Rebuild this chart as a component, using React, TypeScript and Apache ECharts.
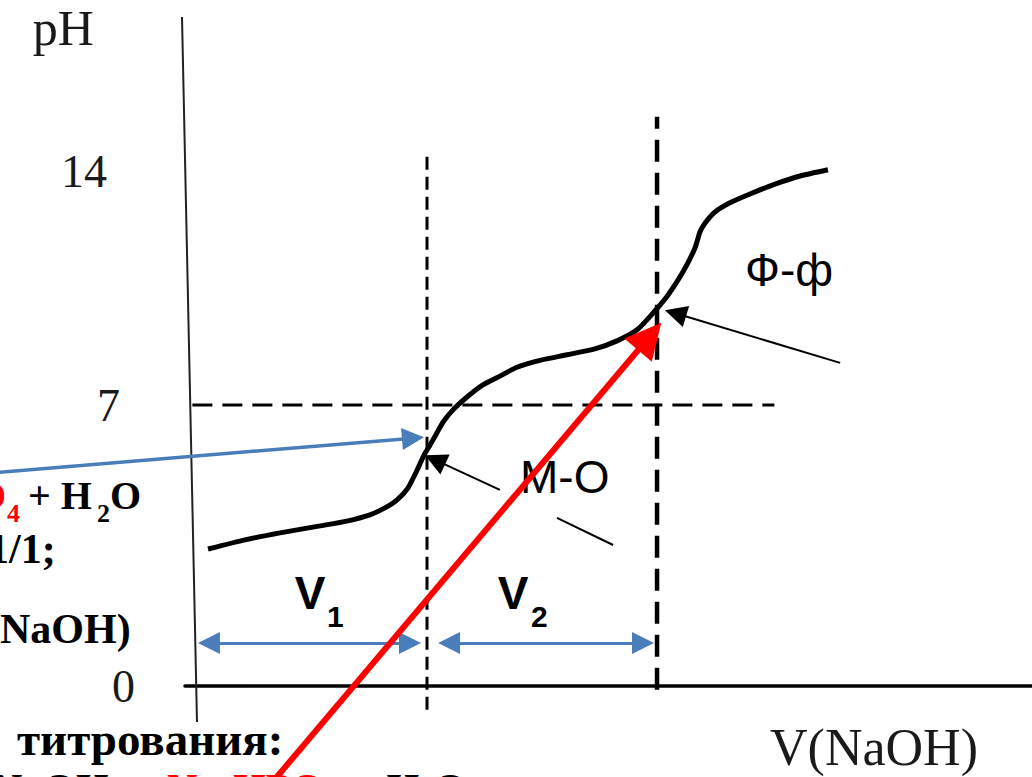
import React, { useEffect, useRef } from "react";
import * as echarts from "echarts";

// Titration curve (V of NaOH, pH)
const curveVolume = [0.48, 2.09, 3.61, 5.35, 6.52, 7.52, 8.17, 8.7, 9.17, 9.57, 9.87, 10.13, 10.43, 10.7, 11.13, 11.74, 12.43, 13.17, 13.91, 14.91, 16.09, 17.3, 18.26, 19.13, 19.83, 20.48, 21.13, 21.65, 21.87, 22.09, 22.52, 23.17, 24.04, 25.13, 26.22, 27.43];
const curvePH = [3.73, 3.98, 4.17, 4.36, 4.49, 4.66, 4.85, 5.07, 5.39, 5.88, 6.29, 6.56, 6.89, 7.19, 7.52, 7.87, 8.2, 8.44, 8.68, 8.87, 9.02, 9.18, 9.4, 9.7, 10.16, 10.65, 11.28, 11.93, 12.37, 12.61, 12.91, 13.16, 13.4, 13.67, 13.89, 14.06];

// Equivalence points and the neutral level as drawn
const equivalenceV1 = 10;
const equivalenceV2 = 20;
const neutralLevel = 7.65;
const v1LineRange = [-0.65, 14.54];
const v2LineRange = [-0.1, 15.5];
const neutralLineRange = [-0.2, 25.1];

// Y tick labels
const phTickValues = [0, 7.65, 14];
const phTickLabels = ["0", "7", "14"];

// Annotation arrows (data coordinates)
const v1Span = [[0.52, 1.17], [9.26, 1.17]];
const v2Span = [[10.96, 1.17], [19.39, 1.17]];
const bluePointer = [[-9.0, 5.8], [9.39, 6.75]];
const redPointer = [[3.17, -2.7], [19.68, 9.52]];
const moPointer = [[13.17, 5.34], [10.35, 6.16]];
const moTail = [[18.09, 3.84], [15.65, 4.58]];
const ffPointer = [[27.96, 8.8], [20.8, 10.15]];

const SERIF = '"Liberation Serif", "Times New Roman", serif';
const SANS = '"Liberation Sans", Arial, sans-serif';

function txt(text: string, x: number, y: number, font: string, fill: string, align = "left", z = 50) {
  return {
    type: "text",
    z,
    style: { text, x, y, font, fill, textAlign: align, textVerticalAlign: "middle" },
  };
}

export default function App() {
  const ref = useRef<HTMLDivElement>(null);
  useEffect(() => {
    const chart = echarts.init(ref.current!, null, { renderer: "svg" });
    const curve = curveVolume.map((v, i) => [v, curvePH[i]]);
    const boldSerif = (s: number) => `bold ${s}px ${SERIF}`;
    const option: any = {
      animation: false,
      backgroundColor: "#ffffff",
      grid: { left: 185, right: 0, top: 17, bottom: 91 },
      xAxis: {
        type: "value",
        min: -0.52,
        max: 36.3,
        axisLine: { show: true, onZero: true, lineStyle: { color: "#000", width: 3.5 } },
        axisTick: { show: false },
        axisLabel: { show: false },
        splitLine: { show: false },
        name: "V(NaOH)",
        nameLocation: "end",
        nameGap: 0,
        nameTextStyle: {
          fontFamily: SERIF,
          fontSize: 52,
          color: "#1a1a1a",
          align: "right",
          verticalAlign: "top",
          padding: [35, 54, 0, 0],
        },
      },
      yAxis: {
        type: "value",
        min: 0,
        max: 18.22,
        axisLine: { show: false },
        axisTick: { show: false },
        splitLine: { show: false },
        axisLabel: {
          customValues: phTickValues,
          margin: 50,
          fontFamily: SERIF,
          fontSize: 46,
          color: "#1a1a1a",
          formatter: (v: number) => {
            const i = phTickValues.indexOf(v);
            return i < 0 ? "" : `{t${i}|${phTickLabels[i]}}`;
          },
          rich: {
            t0: { fontFamily: SERIF, fontSize: 46, color: "#1a1a1a", padding: [0, 0, 0, 0] },
            t1: { fontFamily: SERIF, fontSize: 46, color: "#1a1a1a", padding: [0, 15, 0, 0] },
            t2: { fontFamily: SERIF, fontSize: 46, color: "#1a1a1a", padding: [0, 28, 0, 0] },
          },
        },
        name: "pH",
        nameLocation: "end",
        nameGap: -11,
        nameTextStyle: {
          fontFamily: SERIF,
          fontSize: 50,
          color: "#1a1a1a",
          align: "right",
          verticalAlign: "middle",
          padding: [0, 103, 0, 0],
        },
      },
      series: [
        {
          type: "line",
          data: curve,
          smooth: 0.2,
          showSymbol: false,
          lineStyle: { color: "#000", width: 5 },
          z: 6,
        },
        {
          type: "line",
          data: [[equivalenceV1, v1LineRange[0]], [equivalenceV1, v1LineRange[1]]],
          showSymbol: false,
          clip: false,
          lineStyle: { color: "#000", width: 3, type: [13, 7] },
          z: 4,
        },
        {
          type: "line",
          data: [[equivalenceV2, v2LineRange[0]], [equivalenceV2, v2LineRange[1]]],
          showSymbol: false,
          clip: false,
          lineStyle: { color: "#000", width: 4.5, type: [22, 11] },
          z: 4,
        },
        {
          type: "line",
          data: [[neutralLineRange[0], neutralLevel], [neutralLineRange[1], neutralLevel]],
          showSymbol: false,
          clip: false,
          lineStyle: { color: "#000", width: 3, type: [20, 10] },
          z: 4,
        },
        {
          type: "lines",
          coordinateSystem: "cartesian2d",
          clip: false,
          symbol: ["triangle", "triangle"],
          symbolSize: 22,
          lineStyle: { color: "#4a7ebb", width: 3, opacity: 1 },
          itemStyle: { color: "#4a7ebb" },
          data: [{ coords: v1Span }, { coords: v2Span }],
          z: 7,
        },
        {
          type: "lines",
          coordinateSystem: "cartesian2d",
          clip: false,
          symbol: ["none", "triangle"],
          symbolSize: 22,
          lineStyle: { color: "#4a7ebb", width: 3.5, opacity: 1 },
          itemStyle: { color: "#4a7ebb" },
          data: [{ coords: bluePointer }],
          z: 7,
        },
        {
          type: "lines",
          coordinateSystem: "cartesian2d",
          clip: false,
          symbol: ["none", "triangle"],
          symbolSize: 22,
          lineStyle: { color: "#000", width: 2, opacity: 1 },
          itemStyle: { color: "#000" },
          data: [{ coords: moPointer }, { coords: ffPointer }],
          z: 7,
        },
        {
          type: "lines",
          coordinateSystem: "cartesian2d",
          clip: false,
          symbol: ["none", "none"],
          lineStyle: { color: "#000", width: 2, opacity: 1 },
          data: [{ coords: moTail }],
          z: 7,
        },
        {
          type: "lines",
          coordinateSystem: "cartesian2d",
          clip: false,
          symbol: ["none", "triangle"],
          symbolSize: 36,
          lineStyle: { color: "#ff0000", width: 6, opacity: 1 },
          itemStyle: { color: "#ff0000" },
          data: [{ coords: redPointer }],
          z: 20,
        },
      ],
      graphic: [
        { type: "line", z: 3, shape: { x1: 182, y1: 17, x2: 197, y2: 722 }, style: { stroke: "#222", lineWidth: 2 } },
        txt("M-O", 520, 477, `46px ${SANS}`, "#000", "left", 1),
        txt("Ф-ф", 789, 270, `46px ${SANS}`, "#000", "center", 1),
        txt("V", 310, 593, `bold 46px ${SANS}`, "#000", "center"),
        txt("1", 327, 616, `bold 30px ${SANS}`, "#000"),
        txt("V", 513, 593, `bold 46px ${SANS}`, "#000", "center"),
        txt("2", 531, 616, `bold 30px ${SANS}`, "#000"),
        // left slide text fragments
        txt("O", -25, 495, boldSerif(40), "#ff0000"),
        txt("4", 7, 513, boldSerif(26), "#ff0000"),
        txt("+ H", 28, 495, boldSerif(40), "#000"),
        txt("2", 97, 513, boldSerif(26), "#000"),
        txt("O", 110, 495, boldSerif(40), "#000"),
        txt("1/1;", -12, 549, boldSerif(42), "#000"),
        txt("NaOH)", 0, 629, boldSerif(42), "#000"),
        txt("титрования:", 17, 739, boldSerif(47), "#000"),
        // bottom reaction line (cut off by the frame)
        txt("NaOH =", -8, 789, boldSerif(42), "#000"),
        txt("Na", 167, 789, boldSerif(42), "#ff0000"),
        txt("2", 218, 805, boldSerif(27), "#ff0000"),
        txt("HPO", 233, 789, boldSerif(42), "#ff0000"),
        txt("4", 326, 805, boldSerif(27), "#ff0000"),
        txt("+ H", 352, 789, boldSerif(42), "#000"),
        txt("2", 420, 805, boldSerif(27), "#000"),
        txt("O", 434, 789, boldSerif(42), "#000"),
      ],
    };
    chart.setOption(option);
    return () => chart.dispose();
  }, []);
  return (
    <div
      ref={ref}
      style={{ position: "fixed", left: 0, top: 0, width: 1032, height: 777, background: "#fff" }}
    />
  );
}
